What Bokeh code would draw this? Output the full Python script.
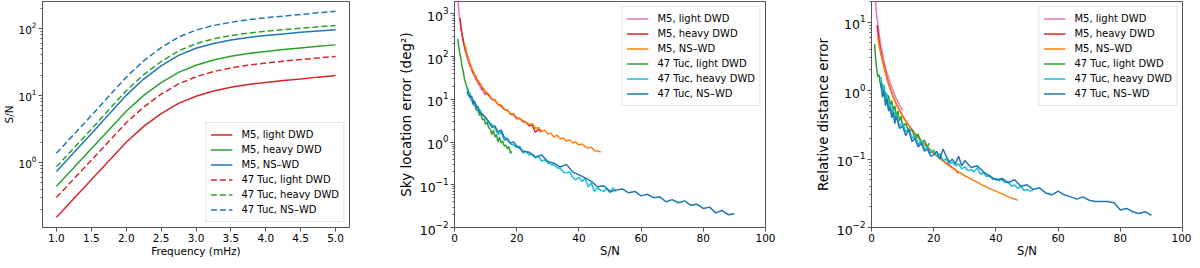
from bokeh.plotting import figure
from bokeh.layouts import row
from bokeh.models import Range1d, FixedTicker, LogTickFormatter, NumeralTickFormatter
from bokeh.embed import file_html
from bokeh.resources import INLINE

FONT = "DejaVu Sans"
FS = "10.5px"        # x-axis ticks/labels, panel 1 y-axis
FS_TICK2 = "12.5px"  # panels 2-3 y tick labels
FS_LAB2 = "13.5px"   # panels 2-3 y axis labels
FS_XLAB2 = "11.5px"  # panels 2-3 x axis label
FS_LEG = "10px"

# ---------------- Panel 1: S/N vs frequency ----------------
freq = [1.0, 1.25, 1.5, 1.75, 2.0, 2.25, 2.5, 2.75, 3.0, 3.25, 3.5, 3.75, 4.0, 4.25, 4.5, 4.75, 5.0]
snr_m5_light = [0.152, 0.29, 0.55, 1.05, 2.0, 3.45, 5.35, 7.6, 9.7, 11.6, 13.2, 14.5, 15.6, 16.6, 17.6, 18.7, 19.8]
snr_m5_heavy = [0.44, 0.84, 1.6, 3.05, 5.8, 10.0, 15.5, 22.0, 28.1, 33.6, 38.3, 42.0, 45.2, 48.1, 51.0, 53.8, 56.6]
snr_m5_nswd = [0.73, 1.4, 2.68, 5.2, 10.0, 17.5, 27.5, 39.5, 50.5, 59.5, 67.0, 73.0, 78.0, 82.5, 87.0, 91.5, 95.5]
snr_tuc_light = [0.30, 0.57, 1.08, 2.05, 3.9, 6.7, 10.4, 14.8, 18.9, 22.6, 25.7, 28.2, 30.3, 32.3, 34.2, 36.1, 37.9]
snr_tuc_heavy = [0.86, 1.64, 3.13, 6.1, 11.7, 20.4, 32.0, 46.0, 59.0, 69.5, 78.0, 85.0, 90.5, 95.5, 100.5, 105.5, 110.0]
snr_tuc_nswd = [1.37, 2.62, 5.0, 9.7, 18.7, 32.7, 51.4, 73.9, 94.0, 110.0, 123.0, 134.0, 143.5, 152.0, 161.0, 170.0, 179.0]

freq_ticks = [1.0, 1.5, 2.0, 2.5, 3.0, 3.5, 4.0, 4.5, 5.0]
snr_ticks = [0, 20, 40, 60, 80, 100]

labels = ["M5, light DWD", "M5, heavy DWD", "M5, NS\u2013WD",
          "47 Tuc, light DWD", "47 Tuc, heavy DWD", "47 Tuc, NS\u2013WD"]

# ---------------- Panel 2: sky location error vs S/N ----------------
sky_m5_light_snr = [1.0, 1.2, 1.5, 2.0, 2.5, 3.0, 3.5, 4.0, 4.5, 5.0, 5.5, 6.0, 6.5, 7.0, 7.5, 8.0, 8.5, 9.0, 9.5, 10.0]
sky_m5_light = [2600, 1800, 1000, 480, 290, 190, 135, 100, 76, 60, 48, 40, 33, 28, 24, 21, 18, 16, 14, 12.5]

sky_m5_heavy_snr = [1.8, 2.2, 2.6, 3.0, 3.4, 3.8, 4.2, 4.6, 5.0, 5.5, 6.0, 6.5, 7.0, 7.5, 8.0, 8.5, 9.0, 9.5,
                    10, 11, 12, 13, 14, 15, 16, 17, 18, 19, 20, 21, 22, 23, 24, 25, 26, 27, 28]
sky_m5_heavy = [800, 420, 290, 210, 150, 125, 95, 82, 62, 55, 42, 38, 30, 28, 23, 22, 17, 17.5,
                14, 12.5, 10, 9.5, 7.5, 7.0, 5.8, 5.6, 4.5, 4.4, 3.5, 3.6, 3.0, 2.9, 2.4, 2.5, 1.7, 2.0, 1.7]

sky_m5_nswd_snr = [3.2, 3.6, 4.0, 4.5, 5.0, 5.5, 6.0, 6.5, 7.0, 7.5, 8.0, 9,
                   10, 11, 12, 13, 14, 15, 16, 17, 18, 19, 20,
                   21, 22, 23, 24, 25, 26, 27, 28, 29, 30,
                   31, 32, 33, 34, 35, 36, 37, 38, 39, 40,
                   41, 42, 43, 44, 45, 46, 47]
sky_m5_nswd = [200, 160, 115, 90, 70, 52, 47, 36, 33, 26, 25, 19,
               15, 13.5, 10, 9.8, 7.6, 7.4, 5.9, 5.5, 4.6, 4.6, 3.7,
               3.5, 3.2, 2.9, 2.6, 2.7, 2.1, 2.2, 1.8, 1.9, 1.55,
               1.6, 1.3, 1.45, 1.2, 1.25, 1.05, 1.12, 0.95, 1.0, 0.85,
               0.9, 0.78, 0.72, 0.76, 0.63, 0.62, 0.58]

sky_tuc_light_snr = [1.0, 1.3, 1.6, 2.0, 2.4, 2.8, 3.2, 3.6, 4.0, 4.5, 5.0, 5.5, 6.0, 6.5, 7.0, 7.5, 8.0, 8.5,
                     9.0, 9.5, 10.0, 10.5, 11.0, 11.5, 12.0, 12.5, 13.0, 13.5, 14.0, 14.5, 15.0, 15.5,
                     16.0, 16.5, 17.0, 17.5, 18.0, 18.5]
sky_tuc_light = [260, 190, 130, 95, 60, 45, 30, 24, 19, 16, 11, 10.5, 7.5, 7.8, 5.5, 5.8, 4.2, 4.5,
                 3.3, 3.5, 2.6, 2.9, 2.2, 2.0, 1.5, 1.9, 1.3, 1.5, 1.0, 1.3, 0.95, 1.05,
                 0.8, 0.85, 0.7, 0.78, 0.55, 0.6]

sky_tuc_heavy_snr = [4.0, 4.5, 5.0, 5.5, 6.0, 6.5, 7.0, 7.5, 8.0,
                     9, 10, 11, 12, 13, 14, 15, 16, 17, 18, 19, 20,
                     21, 22, 23, 24, 25, 26, 27, 28, 29, 30,
                     31, 32, 33, 34, 35, 36, 37, 38, 39, 40,
                     41, 42, 43, 44, 45, 46, 47, 48, 49, 50, 51, 52]
sky_tuc_heavy = [18, 12, 14, 9, 10, 7, 7.5, 5.5, 6,
                 4.3, 3.8, 2.9, 2.6, 2.1, 1.5, 1.7, 1.1, 1.25, 0.9, 0.85, 0.75,
                 0.8, 0.55, 0.6, 0.5, 0.52, 0.42, 0.46, 0.36, 0.38, 0.33,
                 0.3, 0.29, 0.25, 0.24, 0.2, 0.19, 0.2, 0.15, 0.13, 0.15,
                 0.12, 0.14, 0.09, 0.11, 0.07, 0.085, 0.075, 0.07, 0.082, 0.065, 0.085, 0.07]

sky_tuc_nswd_snr = [4.0, 4.5, 5.0, 5.5, 6.0, 6.5, 7.0, 7.5, 8.0,
                    9, 10, 11, 12, 13, 14, 15, 16, 17, 18, 19, 20,
                    22, 24, 26, 28, 30, 32, 34, 36, 38, 40, 42, 44, 46, 48,
                    50, 52, 54, 56, 58, 60, 62, 64, 66, 68, 70, 72, 74, 76, 78,
                    80, 82, 84, 86, 88, 90]
sky_tuc_nswd = [15, 13, 11, 12, 8, 9, 6.5, 6.8, 5,
                4.5, 3.7, 3.0, 2.2, 2.4, 1.7, 1.9, 1.3, 1.1, 0.95, 1.0, 0.8,
                0.62, 0.58, 0.45, 0.5, 0.35, 0.32, 0.26, 0.3, 0.2, 0.17, 0.145, 0.12, 0.09, 0.095,
                0.07, 0.075, 0.08, 0.065, 0.07, 0.055, 0.06, 0.05, 0.052, 0.04, 0.045, 0.038, 0.042, 0.033, 0.035,
                0.028, 0.03, 0.022, 0.025, 0.02, 0.021]

# ---------------- Panel 3: relative distance error vs S/N ----------------
dist_m5_light_snr = [1.2, 1.5, 2.0, 2.5, 3.0, 3.5, 4.0, 5, 6, 7, 8, 9, 10]
dist_m5_light = [22, 15, 9.5, 6.5, 4.6, 3.5, 2.7, 1.8, 1.3, 0.98, 0.76, 0.62, 0.51]

dist_m5_heavy_snr = [1.8, 2.0, 2.5, 3.0, 3.5, 4.0, 5, 6, 7, 8, 9, 10, 11, 12, 13, 14, 15,
                     16, 17, 18, 19, 20, 21, 22, 23, 24, 25, 26, 27, 28]
dist_m5_heavy = [9.0, 7.3, 5.0, 3.7, 2.8, 2.3, 1.5, 1.07, 0.81, 0.63, 0.52, 0.43, 0.36, 0.31, 0.27, 0.235, 0.21,
                 0.185, 0.165, 0.15, 0.135, 0.123, 0.112, 0.102, 0.094, 0.087, 0.081, 0.075, 0.07, 0.062]

dist_m5_nswd_snr = [2.0, 2.5, 3.0, 3.5, 4.0, 5, 6, 7, 8, 9, 10, 12, 14, 16, 18, 20, 22, 24, 26, 28,
                    30, 32, 34, 36, 38, 40, 42, 44, 46, 47]
dist_m5_nswd = [6.0, 4.4, 3.4, 2.7, 2.2, 1.45, 1.05, 0.8, 0.63, 0.51, 0.42, 0.305, 0.23, 0.182, 0.148, 0.121,
                0.101, 0.086, 0.074, 0.065, 0.057, 0.051, 0.046, 0.041, 0.037, 0.034, 0.031, 0.028, 0.026, 0.025]

dist_tuc_light_snr = [1.0, 1.3, 1.6, 2.0, 2.4, 2.8, 3.2, 3.6, 4.0, 4.5, 5.0, 5.5, 6.0, 6.5, 7.0, 7.5, 8.0, 8.5,
                      9.0, 9.5, 10, 11, 12, 13, 14, 15, 16, 17, 18, 18.5]
dist_tuc_light = [4.8, 3.0, 2.2, 1.6, 1.7, 1.3, 1.1, 1.25, 0.85, 0.95, 0.7, 0.85, 0.6, 0.72, 0.5, 0.6, 0.42, 0.5,
                  0.36, 0.42, 0.3, 0.33, 0.25, 0.27, 0.2, 0.23, 0.17, 0.19, 0.15, 0.17]

dist_tuc_heavy_snr = [3.0, 3.5, 4.0, 4.5, 5.0, 5.5, 6.0, 6.5, 7.0, 7.5, 8.0,
                      9, 10, 11, 12, 13, 14, 15, 16, 17, 18, 19, 20,
                      21, 22, 23, 24, 25, 26, 27, 28, 29, 30,
                      31, 32, 33, 34, 35, 36, 37, 38, 39, 40,
                      41, 42, 43, 44, 45, 46, 47, 48, 49, 50, 51, 52]
dist_tuc_heavy = [1.6, 1.0, 1.2, 0.7, 0.9, 0.55, 0.65, 0.45, 0.55, 0.38, 0.45,
                  0.3, 0.34, 0.25, 0.28, 0.2, 0.23, 0.16, 0.19, 0.14, 0.15, 0.12, 0.135,
                  0.11, 0.12, 0.095, 0.1, 0.085, 0.09, 0.08, 0.085, 0.072, 0.077,
                  0.068, 0.07, 0.065, 0.075, 0.06, 0.063, 0.055, 0.058, 0.05, 0.052,
                  0.048, 0.05, 0.045, 0.047, 0.04, 0.042, 0.037, 0.04, 0.035, 0.036, 0.034, 0.035]

dist_tuc_nswd_snr = [3.0, 3.5, 4.0, 4.5, 5.0, 5.5, 6.0, 6.5, 7.0, 7.5, 8.0,
                     9, 10, 11, 12, 13, 14, 15, 16, 17, 18, 19, 20,
                     21, 22, 23, 24, 25, 26, 27, 28, 29, 30,
                     32, 34, 36, 38, 40, 42, 44, 46, 48, 50, 52, 54, 56, 58,
                     60, 62, 64, 66, 68, 70, 72, 74, 76, 78, 80, 82, 84, 86, 88, 90]
dist_tuc_nswd = [1.3, 0.8, 1.0, 0.6, 0.75, 0.5, 0.58, 0.4, 0.48, 0.33, 0.42,
                 0.28, 0.3, 0.22, 0.27, 0.18, 0.2, 0.15, 0.17, 0.13, 0.14, 0.11, 0.115,
                 0.13, 0.1, 0.14, 0.11, 0.09, 0.1, 0.085, 0.11, 0.08, 0.095,
                 0.075, 0.08, 0.065, 0.056, 0.05, 0.052, 0.045, 0.05, 0.04, 0.042, 0.036, 0.038, 0.032, 0.03,
                 0.034, 0.03, 0.028, 0.026, 0.028, 0.025, 0.024, 0.024, 0.024, 0.023, 0.018, 0.019, 0.017,
                 0.016, 0.017, 0.015]

RED, GREEN, BLUE = "#d62728", "#2ca02c", "#1f77b4"
PINK, ORANGE, CYAN = "#e377c2", "#ff7f0e", "#17becf"
AX = "#555555"


def log_minors(lo, hi):
    return [m * 10.0 ** e for e in range(lo, hi) for m in range(2, 10)]


def make_fig(width, left, right, x_range, y_range, xlabel, ylabel, xticks, yticks, minor,
             ytick_fs, ylabel_fs):
    p = figure(width=width, height=260, x_range=x_range, y_range=y_range,
               y_axis_type="log", output_backend="svg", toolbar_location=None,
               min_border_left=left, min_border_right=right,
               min_border_top=1, min_border_bottom=31)
    p.xgrid.visible = False
    p.ygrid.visible = False
    p.outline_line_color = AX
    p.outline_line_width = 1
    p.background_fill_color = "white"
    p.border_fill_color = "white"
    p.xaxis.ticker = FixedTicker(ticks=xticks)
    p.yaxis.ticker = FixedTicker(ticks=yticks, minor_ticks=minor)
    p.yaxis.formatter = LogTickFormatter()
    p.xaxis.axis_label = xlabel
    p.yaxis.axis_label = ylabel
    for ax in (p.xaxis[0], p.yaxis[0]):
        ax.axis_line_color = AX
        ax.major_tick_line_color = AX
        ax.minor_tick_line_color = AX
        ax.major_tick_out = 4
        ax.major_tick_in = 0
        ax.minor_tick_out = 2
        ax.minor_tick_in = 0
        ax.major_label_text_font = FONT
        ax.major_label_text_color = "black"
        ax.major_label_standoff = 2
        ax.axis_label_text_font = FONT
        ax.axis_label_text_font_style = "normal"
        ax.axis_label_text_color = "black"
        ax.axis_label_standoff = 0
    p.xaxis.major_label_text_font_size = FS
    p.xaxis.axis_label_text_font_size = FS
    p.yaxis.major_label_text_font_size = ytick_fs
    p.yaxis.axis_label_text_font_size = ylabel_fs
    return p


def style_legend(p, loc):
    lg = p.legend[0]
    lg.location = loc
    lg.margin = 5
    lg.padding = 4
    lg.spacing = 0
    lg.label_height = 15
    lg.glyph_height = 15
    lg.glyph_width = 22
    lg.label_standoff = 9
    lg.label_text_font = FONT
    lg.label_text_font_size = FS_LEG
    lg.label_text_color = "black"
    lg.border_line_color = "#cccccc"
    lg.border_line_width = 1
    lg.background_fill_alpha = 0.8


LW = 1.5

# Panel 1
p1 = make_fig(394, 37, 45, Range1d(0.8, 5.2), Range1d(0.107, 251), "Frequency (mHz)", "S/N",
              freq_ticks, [1, 10, 100], log_minors(-1, 3), FS, FS)
p1.xaxis.formatter = NumeralTickFormatter(format="0.0")
p1.line(freq, snr_m5_light, color=RED, line_width=LW, legend_label=labels[0])
p1.line(freq, snr_m5_heavy, color=GREEN, line_width=LW, legend_label=labels[1])
p1.line(freq, snr_m5_nswd, color=BLUE, line_width=LW, legend_label=labels[2])
p1.line(freq, snr_tuc_light, color=RED, line_width=LW, line_dash="6 3", legend_label=labels[3])
p1.line(freq, snr_tuc_heavy, color=GREEN, line_width=LW, line_dash="6 3", legend_label=labels[4])
p1.line(freq, snr_tuc_nswd, color=BLUE, line_width=LW, line_dash="6 3", legend_label=labels[5])
style_legend(p1, "bottom_right")

# Panel 2
p2 = make_fig(417, 53, 46, Range1d(0, 100), Range1d(0.01, 1950), "S/N", "Sky location error (deg\u00b2)",
              snr_ticks, [0.01, 0.1, 1, 10, 100, 1000], log_minors(-2, 4), FS_TICK2, FS_LAB2)
p2.yaxis.axis_label_standoff = 3
p2.xaxis.axis_label_text_font_size = FS_XLAB2
p2.xaxis.axis_label_standoff = -1
p2.line(sky_m5_light_snr, sky_m5_light, color=PINK, line_width=LW, legend_label=labels[0])
p2.line(sky_m5_heavy_snr, sky_m5_heavy, color=RED, line_width=LW, legend_label=labels[1])
p2.line(sky_m5_nswd_snr, sky_m5_nswd, color=ORANGE, line_width=LW, legend_label=labels[2])
p2.line(sky_tuc_light_snr, sky_tuc_light, color=GREEN, line_width=LW, legend_label=labels[3])
p2.line(sky_tuc_heavy_snr, sky_tuc_heavy, color=CYAN, line_width=LW, legend_label=labels[4])
p2.line(sky_tuc_nswd_snr, sky_tuc_nswd, color=BLUE, line_width=LW, legend_label=labels[5])
style_legend(p2, "top_right")

# Panel 3
p3 = make_fig(380, 53, 9, Range1d(0, 100), Range1d(0.01, 20), "S/N", "Relative distance error",
              snr_ticks, [0.01, 0.1, 1, 10], log_minors(-2, 2), FS_TICK2, FS_LAB2)
p3.yaxis.axis_label_standoff = 3
p3.xaxis.axis_label_text_font_size = FS_XLAB2
p3.xaxis.axis_label_standoff = -1
p3.line(dist_m5_light_snr, dist_m5_light, color=PINK, line_width=LW, legend_label=labels[0])
p3.line(dist_m5_heavy_snr, dist_m5_heavy, color=RED, line_width=LW, legend_label=labels[1])
p3.line(dist_m5_nswd_snr, dist_m5_nswd, color=ORANGE, line_width=LW, legend_label=labels[2])
p3.line(dist_tuc_light_snr, dist_tuc_light, color=GREEN, line_width=LW, legend_label=labels[3])
p3.line(dist_tuc_heavy_snr, dist_tuc_heavy, color=CYAN, line_width=LW, legend_label=labels[4])
p3.line(dist_tuc_nswd_snr, dist_tuc_nswd, color=BLUE, line_width=LW, legend_label=labels[5])
style_legend(p3, "top_right")

layout = row(p1, p2, p3)
open("out.html", "w").write(file_html(layout, INLINE))
